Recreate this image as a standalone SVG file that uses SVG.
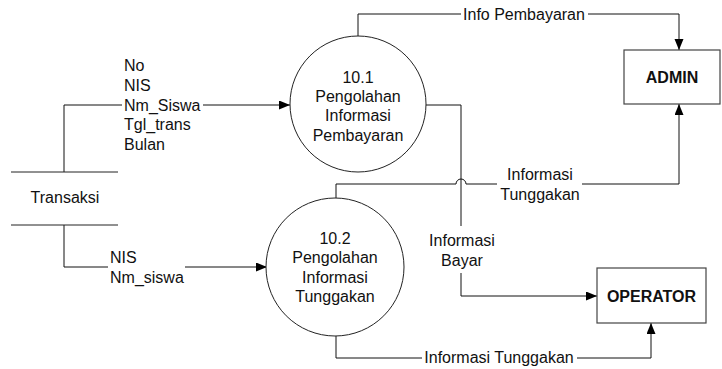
<svg xmlns="http://www.w3.org/2000/svg" width="722" height="369" viewBox="0 0 722 369">
  <style>
    text { font-family: "Liberation Sans", Arial, sans-serif; font-size: 16px; fill: #111; }
    .c { text-anchor: middle; }
    .b { font-weight: bold; }
    .proc { fill: #fff; stroke: #222; stroke-width: 1; }
    .ent { fill: #fff; stroke: #444; stroke-width: 1.2; }
    .store { stroke: #222; stroke-width: 1; }
    .flow { fill: none; stroke: #111; stroke-width: 1; }
  </style>
  <defs>
    <marker id="arrow" markerUnits="userSpaceOnUse" markerWidth="12" markerHeight="10" refX="11" refY="4.5" orient="auto">
      <path d="M0,0 L11,4.5 L0,9 z" fill="#000"/>
    </marker>
  </defs>

  <!-- data flows -->
  <g id="connectors">
    <!-- Transaksi to 10.1 -->
    <path class="flow" d="M64,172 V105 H122"/>
    <path class="flow" d="M203,105 H290" marker-end="url(#arrow)"/>
    <!-- Transaksi to 10.2 -->
    <path class="flow" d="M64,225 V267 H108"/>
    <path class="flow" d="M185,267 H267" marker-end="url(#arrow)"/>
    <!-- 10.1 to ADMIN -->
    <path class="flow" d="M358,36 V14 H461"/>
    <path class="flow" d="M588,14 H679 V50" marker-end="url(#arrow)"/>
    <!-- 10.1 to OPERATOR -->
    <path class="flow" d="M426,105 H461 V226"/>
    <path class="flow" d="M461,273 V296 H597" marker-end="url(#arrow)"/>
    <!-- 10.2 to ADMIN, hopping over the 10.1 flow -->
    <path class="flow" d="M336,198 V184 H456 A5,5 0 0 1 466,184 H497"/>
    <path class="flow" d="M582,184 H679 V104" marker-end="url(#arrow)"/>
    <!-- 10.2 to OPERATOR -->
    <path class="flow" d="M336,336 V358 H422"/>
    <path class="flow" d="M577,358 H651 V323" marker-end="url(#arrow)"/>

    <!-- flow labels -->
    <text x="124" y="71">No</text>
    <text x="124" y="90.5">NIS</text>
    <text x="124" y="110.5">Nm_Siswa</text>
    <text x="124" y="130">Tgl_trans</text>
    <text x="124" y="150">Bulan</text>
    <text x="110" y="263">NIS</text>
    <text x="110" y="282.5">Nm_siswa</text>
    <text class="c" x="524" y="19.5">Info Pembayaran</text>
    <text class="c" x="540" y="180">Informasi</text>
    <text class="c" x="540" y="199.5">Tunggakan</text>
    <text class="c" x="462" y="245.5">Informasi</text>
    <text class="c" x="462" y="265.5">Bayar</text>
    <text class="c" x="499" y="363">Informasi Tunggakan</text>
  </g>

  <!-- data store -->
  <g id="transaksi">
    <line class="store" x1="11" y1="172" x2="118" y2="172"/>
    <line class="store" x1="11" y1="225" x2="118" y2="225"/>
    <text class="c" x="65" y="203">Transaksi</text>
  </g>

  <!-- processes -->
  <g id="proc-10-1">
    <circle class="proc" cx="358" cy="104" r="68"/>
    <text class="c" x="358" y="82.5">10.1</text>
    <text class="c" x="358" y="101.5">Pengolahan</text>
    <text class="c" x="358" y="121">Informasi</text>
    <text class="c" x="358" y="140.5">Pembayaran</text>
  </g>
  <g id="proc-10-2">
    <circle class="proc" cx="335" cy="267" r="69"/>
    <text class="c" x="335" y="243.5">10.2</text>
    <text class="c" x="335" y="263">Pengolahan</text>
    <text class="c" x="335" y="282.5">Informasi</text>
    <text class="c" x="335" y="302">Tunggakan</text>
  </g>

  <!-- external entities -->
  <g id="admin">
    <rect class="ent" x="624" y="50" width="96" height="54"/>
    <text class="c b" x="672" y="83">ADMIN</text>
  </g>
  <g id="operator">
    <rect class="ent" x="597" y="268" width="109" height="55"/>
    <text class="c b" x="651.5" y="301.5">OPERATOR</text>
  </g>
</svg>
